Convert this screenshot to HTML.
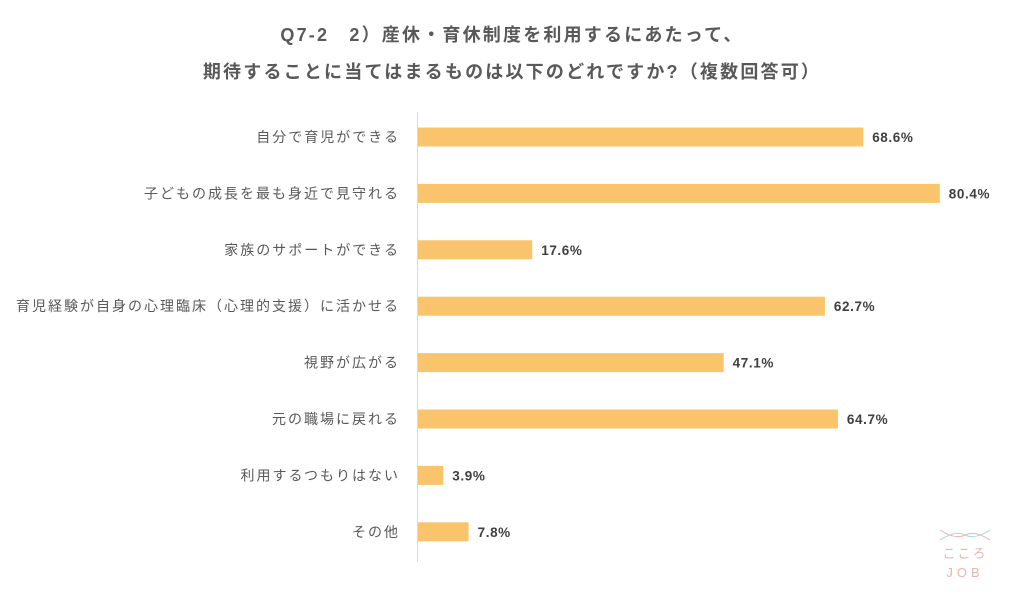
<!DOCTYPE html>
<html><head><meta charset="utf-8"><style>
body{margin:0;width:1024px;height:590px;background:#fff;font-family:"Liberation Sans","Noto Sans CJK JP",sans-serif;overflow:hidden}
</style></head><body>
<svg id="c" width="1024" height="590">
<text x="512" y="41" text-anchor="middle" font-size="18" font-weight="bold" fill="#595959" letter-spacing="2.2">Q7-2　2）産休・育休制度を利用するにあたって、</text>
<text x="512" y="78" text-anchor="middle" font-size="18" font-weight="bold" fill="#595959" letter-spacing="2.2">期待することに当てはまるものは以下のどれですか?（複数回答可）</text>
<line x1="417.5" y1="112" x2="417.5" y2="562" stroke="#d9d9d9" stroke-width="1"/>
<g id="bars"></g>
<g>
<path d="M940 530 Q955 540 965 535 Q975 530 990 540" stroke="#e8b4b0" fill="none" stroke-width="1"/>
<path d="M940 540 Q955 530 965 535 Q975 540 990 530" stroke="#a8d8dc" fill="none" stroke-width="1"/>
<text x="965" y="558" text-anchor="middle" font-size="13" fill="#e8b4b0" letter-spacing="2">こころ</text>
<text x="965" y="577" text-anchor="middle" font-size="13" fill="#e8b4b0" letter-spacing="4">JOB</text>
</g>
</svg>
<script>
const categories=["自分で育児ができる","子どもの成長を最も身近で見守れる","家族のサポートができる","育児経験が自身の心理臨床（心理的支援）に活かせる","視野が広がる","元の職場に戻れる","利用するつもりはない","その他"];
const values=[68.6,80.4,17.6,62.7,47.1,64.7,3.9,7.8];
const x0=418,scale=6.49,top0=137,step=56.4,bh=19;
const g=document.getElementById('bars');
const NS="http://www.w3.org/2000/svg";
categories.forEach((c,i)=>{
const cy=top0+i*step;
const r=document.createElementNS(NS,'rect');
r.setAttribute('x',x0);r.setAttribute('y',cy-bh/2);r.setAttribute('width',values[i]*scale);r.setAttribute('height',bh);r.setAttribute('fill','#f9c46b');


g.appendChild(r);
const t=document.createElementNS(NS,'text');
t.setAttribute('x',400);t.setAttribute('y',cy+5);t.setAttribute('text-anchor','end');t.setAttribute('font-size','14');t.setAttribute('letter-spacing','2');t.setAttribute('fill','#595959');t.textContent=c;


g.appendChild(t);
const v=document.createElementNS(NS,'text');
v.setAttribute('x',x0+values[i]*scale+9);v.setAttribute('y',cy+5);v.setAttribute('font-size','13.5');v.setAttribute('font-weight','bold');v.setAttribute('letter-spacing','0.6');v.setAttribute('fill','#404040');v.textContent=values[i].toFixed(1)+'%';


g.appendChild(v);
});
</script>
</body></html>
